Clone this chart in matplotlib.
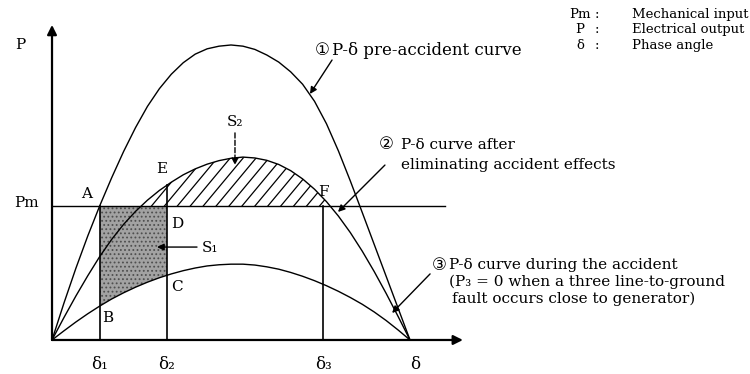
import numpy as np
import matplotlib
matplotlib.use("Agg")
import matplotlib.pyplot as plt

plt.rcParams["font.family"] = ["DejaVu Serif", "DejaVu Sans", "Noto Sans CJK JP"]
plt.rcParams["hatch.linewidth"] = 0.8

# rotor angle in degrees, power in p.u. of the pre-fault peak
delta = np.array([0, 6, 12, 18, 24, 30, 36, 42, 48, 54, 60, 66, 72, 78, 84, 90,
                  96, 102, 108, 114, 120, 126, 132, 138, 144, 150, 156, 162, 168, 174, 180])
p_pre = np.array([0, 0.125, 0.243, 0.353, 0.455, 0.55, 0.639, 0.72, 0.792, 0.852, 0.901,
                  0.94, 0.969, 0.987, 0.996, 1.0, 0.996, 0.985, 0.966, 0.942, 0.909,
                  0.867, 0.809, 0.733, 0.641, 0.539, 0.432, 0.324, 0.216, 0.108, 0])
p_post = np.array([0, 0.076, 0.149, 0.218, 0.283, 0.341, 0.392, 0.436, 0.474, 0.507, 0.535,
                   0.56, 0.58, 0.596, 0.608, 0.616, 0.62, 0.617, 0.609, 0.595, 0.574,
                   0.546, 0.511, 0.469, 0.42, 0.364, 0.301, 0.232, 0.158, 0.08, 0])
p_fault = np.array([0, 0.031, 0.061, 0.089, 0.115, 0.139, 0.16, 0.179, 0.196, 0.211, 0.224,
                    0.235, 0.244, 0.251, 0.255, 0.257, 0.257, 0.254, 0.248, 0.24, 0.229,
                    0.216, 0.201, 0.184, 0.165, 0.144, 0.121, 0.095, 0.066, 0.034, 0])

p_mech = 0.454
d1, d2, d3 = 24.1, 57.8, 136.3

legend_keys = ["Pm", "P", "δ"]
legend_desc = ["Mechanical input", "Electrical output", "Phase angle"]

fig = plt.figure(figsize=(7.5, 3.74), dpi=100)
ax = fig.add_axes([0, 0, 1, 1])
ax.set_xlim(-26.15, 350.95)
ax.set_ylim(-0.1153, 1.1525)
ax.axis("off")

# accelerating area S1 (stippled)
x1 = np.concatenate([[d1], delta[(delta > d1) & (delta < d2)], [d2]])
ax.fill_between(x1, np.interp(x1, delta, p_fault), p_mech, facecolor="#a2a2a2",
                hatch="....", edgecolor="#4f4f4f", lw=0, zorder=1)

# decelerating area S2, hatched with steep diagonals clipped to the region
s2 = ax.fill_between(delta, p_post, p_mech, where=p_post >= p_mech, interpolate=True,
                     facecolor="none", lw=0, zorder=1)
clip = s2.get_paths()[0]
rise = 0.2
for x0 in np.arange(24.0, d3 + 1, 6.5):
    hl, = ax.plot([x0, x0 + rise / 0.0081], [p_mech, p_mech + rise],
                  color="black", lw=0.9, zorder=2)
    hl.set_clip_path(clip, ax.transData)

for p in (p_pre, p_post, p_fault):
    ax.plot(delta, p, color="black", lw=1.0, zorder=3)

ax.plot([0, 197.6], [p_mech, p_mech], color="black", lw=1.0, zorder=3)
ax.plot([d1, d1], [0, p_mech], color="black", lw=1.2, zorder=3)
ax.plot([d2, d2], [0, np.interp(d2, delta, p_post)], color="black", lw=1.2, zorder=3)
ax.plot([d3, d3], [0, p_mech], color="black", lw=1.2, zorder=3)

# axes with arrow heads
ax_arrow = dict(arrowstyle="-|>", lw=1.6, color="black", mutation_scale=14,
                shrinkA=0, shrinkB=0)
ax.annotate("", xy=(0, 1.068), xytext=(0, 0), arrowprops=ax_arrow, zorder=4)
ax.annotate("", xy=(206.6, 0), xytext=(0, 0), arrowprops=ax_arrow, zorder=4)

fs = 11
ax.text(-16.1, 1.0, "P", fontsize=fs, ha="center", va="center")
ax.text(-12.6, 0.464, "Pm", fontsize=fs, ha="center", va="center")
for lbl, x, y in [("A", 17.6, 0.495), ("E", 55.3, 0.58), ("D", 62.8, 0.393),
                  ("C", 62.8, 0.18), ("B", 28.2, 0.075), ("F", 136.3, 0.502)]:
    ax.text(x, y, lbl, fontsize=fs, ha="center", va="center")
ax.text(75.4, 0.312, "S₁", fontsize=fs, ha="left", va="center")
ax.text(92.0, 0.739, "S₂", fontsize=fs, ha="center", va="center")

for lbl, x in [("δ₁", d1), ("δ₂", d2), ("δ₃", d3), ("δ", 182.5)]:
    ax.text(x, -0.083, lbl, fontsize=12, ha="center", va="center")

arrow = dict(arrowstyle="-|>", lw=1.0, color="black", mutation_scale=10,
             shrinkA=0, shrinkB=0)
ax.annotate("", xy=(52.8, 0.315), xytext=(72.9, 0.315), arrowprops=arrow)
ax.annotate("", xy=(92.0, 0.593), xytext=(92.0, 0.702),
            arrowprops=dict(arrow, linestyle="--"))
ax.annotate("", xy=(129.7, 0.834), xytext=(140.8, 0.949), arrowprops=arrow)
ax.annotate("", xy=(143.8, 0.434), xytext=(167.4, 0.593), arrowprops=arrow)
ax.annotate("", xy=(171.0, 0.0915), xytext=(190.1, 0.224), arrowprops=arrow)

# curve captions
ax.text(135.8, 0.98, "①", fontsize=12, ha="center", va="center")
ax.text(140.8, 0.98, "P-δ pre-accident curve", fontsize=12, ha="left", va="center")
ax.text(168.0, 0.661, "②", fontsize=12, ha="center", va="center")
ax.text(175.5, 0.661, "P-δ curve after", fontsize=fs, ha="left", va="center")
ax.text(175.5, 0.593, "eliminating accident effects", fontsize=fs, ha="left", va="center")
ax.text(194.6, 0.254, "③", fontsize=12, ha="center", va="center")
ax.text(199.6, 0.254, "P-δ curve during the accident", fontsize=fs, ha="left", va="center")
ax.text(199.6, 0.197, "(P₃ = 0 when a three line-to-ground", fontsize=fs,
        ha="left", va="center")
ax.text(201.0, 0.139, "fault occurs close to generator)", fontsize=fs,
        ha="left", va="center")

# symbol key
for i, (k, d) in enumerate(zip(legend_keys, legend_desc)):
    y = 1.105 - i * 0.054
    ax.text(265.5, y, k, fontsize=9.5, ha="center", va="center")
    ax.text(274.0, y, ":", fontsize=9.5, ha="center", va="center")
    ax.text(291.6, y, d, fontsize=9.5, ha="left", va="center")

fig.savefig("out.png", dpi=100)
